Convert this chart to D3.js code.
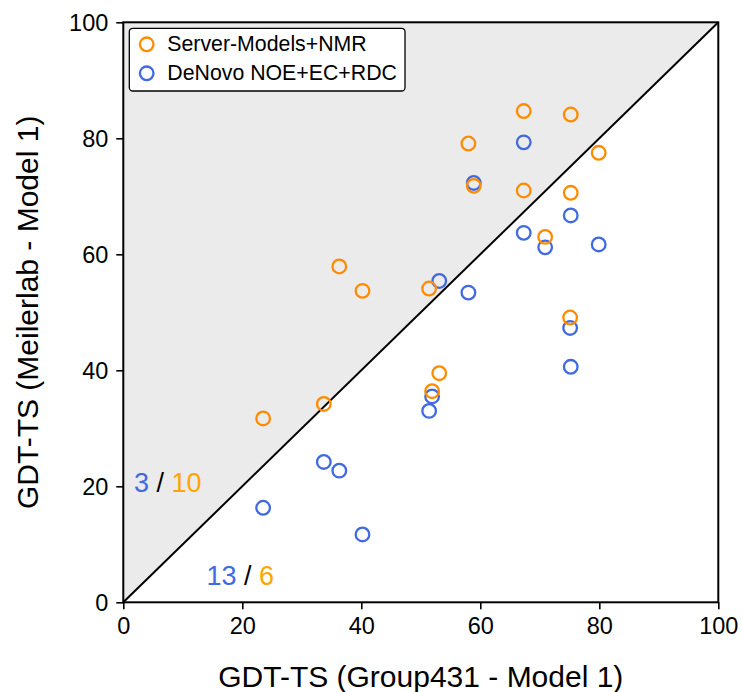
<!DOCTYPE html>
<html>
<head>
<meta charset="utf-8">
<script src="https://cdn.jsdelivr.net/npm/d3@7"></script>
<style>
  html, body { margin: 0; padding: 0; background: #fff; }
  svg { display: block; font-family: "Liberation Sans", Arial, sans-serif; }
</style>
</head>
<body>
<svg id="chart" width="742" height="692"></svg>
<script>
// GDT-TS of Group431 model 1 (x) against Meilerlab model 1 (y)
const serverX = [36.3, 40.2, 67.3, 75.2, 58.0, 79.9, 58.9, 67.3, 75.2, 70.9, 51.4, 75.1, 53.1, 51.9, 23.5, 33.7];
const serverY = [57.9, 53.7, 84.7, 84.1, 79.1, 77.5, 71.8, 71.0, 70.6, 63.0, 54.1, 49.1, 39.5, 36.4, 31.7, 34.2];

const denovoX = [67.3, 58.9, 75.2, 67.3, 70.9, 79.9, 53.1, 58.0, 75.1, 75.2, 51.9, 51.4, 33.7, 36.3, 23.5, 40.2];
const denovoY = [79.3, 72.3, 66.7, 63.7, 61.2, 61.7, 55.4, 53.4, 47.3, 40.6, 35.5, 33.0, 24.2, 22.7, 16.3, 11.7];

const seriesNames = ["Server-Models+NMR", "DeNovo NOE+EC+RDC"];
const tickValues = [0, 20, 40, 60, 80, 100];
const xTitle = "GDT-TS (Group431 - Model 1)";
const yTitle = "GDT-TS (Meilerlab - Model 1)";

const ORANGE = "#ff8c00", BLUE = "#4169e1", ORANGE_TXT = "#ffa500";

const svg = d3.select("#chart");
const plotL = 123.3, plotT = 22.3, plotR = 718.3, plotB = 602.3;

const x = d3.scaleLinear().domain([0, 100]).range([plotL, plotR]);
const y = d3.scaleLinear().domain([0, 100]).range([plotB, plotT]);

// shaded region above the diagonal
svg.append("path")
  .attr("d", d3.line()([[x(0), y(0)], [x(0), y(100)], [x(100), y(100)]]) + "Z")
  .attr("fill", "#ebebeb");

// y = x diagonal
svg.append("line")
  .attr("x1", x(0)).attr("y1", y(0))
  .attr("x2", x(100)).attr("y2", y(100))
  .attr("stroke", "#000").attr("stroke-width", 2);

// axes
const xAxis = svg.append("g")
  .attr("transform", `translate(0,${plotB})`)
  .call(d3.axisBottom(x).tickValues(tickValues).tickSize(7).tickPadding(8.5).tickSizeOuter(0));
const yAxis = svg.append("g")
  .attr("transform", `translate(${plotL},0)`)
  .call(d3.axisLeft(y).tickValues(tickValues).tickSize(7).tickPadding(8).tickSizeOuter(0));
[xAxis, yAxis].forEach(g => {
  g.select(".domain").remove();
  g.selectAll(".tick line").attr("stroke", "#000").attr("stroke-width", 1.6);
  g.selectAll(".tick text")
    .attr("fill", "#000")
    .style("font-family", '"Liberation Sans", Arial, sans-serif')
    .style("font-size", "23.5px");
});
yAxis.selectAll(".tick text").attr("dy", "0.36em");

// plot frame
svg.append("rect")
  .attr("x", plotL).attr("y", plotT)
  .attr("width", plotR - plotL).attr("height", plotB - plotT)
  .attr("fill", "none").attr("stroke", "#000").attr("stroke-width", 2);

// points: de novo first, server models drawn over them
const denovo = denovoX.map((v, i) => [v, denovoY[i]]);
const server = serverX.map((v, i) => [v, serverY[i]]);

svg.append("g").selectAll("circle").data(denovo).join("circle")
  .attr("cx", d => x(d[0])).attr("cy", d => y(d[1])).attr("r", 6.8)
  .attr("fill", "none").attr("stroke", BLUE).attr("stroke-width", 2.3);
svg.append("g").selectAll("circle").data(server).join("circle")
  .attr("cx", d => x(d[0])).attr("cy", d => y(d[1])).attr("r", 6.8)
  .attr("fill", "none").attr("stroke", ORANGE).attr("stroke-width", 2.3);

// counts above / below the diagonal
const above = pts => pts.filter(d => d[1] > d[0]).length;
const below = pts => pts.filter(d => d[1] <= d[0]).length;

function countLabel(px, py, nBlue, nOrange) {
  const t = svg.append("text")
    .attr("x", px).attr("y", py)
    .style("font-size", "27px");
  t.append("tspan").attr("fill", BLUE).text(nBlue);
  t.append("tspan").attr("fill", "#000").text(" / ");
  t.append("tspan").attr("fill", ORANGE_TXT).text(nOrange);
}
countLabel(134, 492.3, above(denovo), above(server));
countLabel(206.5, 585, below(denovo), below(server));

// legend
const lg = svg.append("g");
lg.append("rect")
  .attr("x", 129.3).attr("y", 28.3).attr("width", 275.7).attr("height", 62.7)
  .attr("rx", 3.5)
  .attr("fill", "#fff").attr("stroke", "#000").attr("stroke-width", 1.3);
const legendColors = [ORANGE, BLUE];
seriesNames.forEach((name, i) => {
  const cy = 44.3 + i * 29;
  lg.append("circle")
    .attr("cx", 146.7).attr("cy", cy).attr("r", 6.8)
    .attr("fill", "none").attr("stroke", legendColors[i]).attr("stroke-width", 2.3);
  lg.append("text")
    .attr("x", 167.3).attr("y", cy + 7)
    .attr("fill", "#000")
    .style("font-size", "21.3px")
    .text(name);
});

// axis titles
svg.append("text")
  .attr("x", (plotL + plotR) / 2).attr("y", 686.7)
  .attr("text-anchor", "middle")
  .style("font-size", "30px")
  .text(xTitle);
svg.append("text")
  .attr("transform", `translate(37.5,${(plotT + plotB) / 2}) rotate(-90)`)
  .attr("text-anchor", "middle")
  .style("font-size", "30px")
  .text(yTitle);
</script>
</body>
</html>
